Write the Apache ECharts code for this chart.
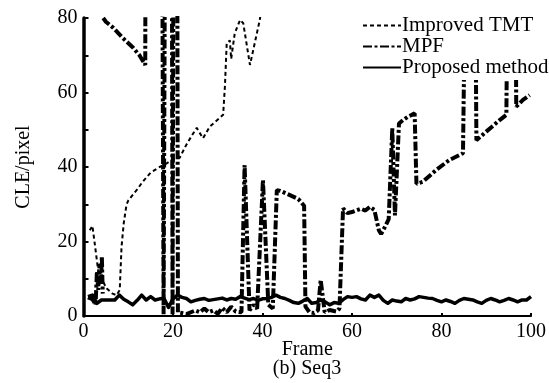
<!DOCTYPE html>
<html>
<head>
<meta charset="utf-8">
<script src="https://cdn.jsdelivr.net/npm/echarts@6/dist/echarts.min.js"></script>
<style>
  html, body {margin: 0; padding: 0; background: #fff;}
  #chart {width: 549px; height: 383px;}
</style>
</head>
<body>
<div id="chart"></div>
<script>
// Improved TMT (thin dashed), goes off the top after frame 40
const tmtFrames = [1.4, 2, 2.6, 3.3, 4, 5.2, 6.5, 7.4, 8.1, 8.5, 9, 9.6, 10, 11, 12, 13.2, 15, 17, 18.6, 20, 21.5, 23, 24.5, 25.3, 26.7, 28.2, 31.2, 31.6, 32, 32.7, 33, 33.8, 35, 35.7, 37.2, 39.4, 40]
const tmtValues = [23, 24.2, 18.6, 12, 10, 7.4, 6, 5.6, 7, 18.6, 25, 29.8, 31, 32.5, 34, 36, 38.5, 40, 41, 42, 42.5, 46, 49, 50.5, 47.7, 50.8, 54, 61.6, 73.2, 74, 69, 75.9, 79.5, 78.6, 67.4, 79.5, 85]

// MPF (thick dash-dot), null = break in the line
const mpfFrames = [1, 2, 2.7, 3, 3.3, 3.6, 3.9, 4.1, 4.3, 4.35,
  4.4, 5, 6.7, 8.8, 11.1, 12.5, 13.8, 14, 17.3, 17.9, 18.5, 19.6, 19.9, 20.3, 20.8, 21.1,
  22, 23, 24, 25, 26, 27, 28, 29, 30, 31, 32, 33, 34, 35.3, 36, 37.1, 38, 38.8, 40.1, 41.3, 42.3,
  43.2, 44, 46, 48, 49.3, 49.6, 50.5, 51.5, 52.4, 53, 53.9, 55, 56.5, 57.2, 58, 59, 60.2, 62, 63,
  64, 65, 66, 66.5, 67.4, 68.2, 69, 69.6, 70.5, 71.4, 72.5, 74, 74.4, 75.8, 78.8, 81.8, 84.8,
  85.4, 87.5, 87.8, 90, 93, 94.5, 94.8, 96.5, 96.7, 98.2, 99.7]
const mpfValues = [5, 4.5, 3, 12, 7, 14, 9, 16, 6, null,
  80, 79, 77.3, 74.6, 72, 70, 67.4, 200, 200, 0.5, 200, 200, 0.5, 200, 200, 1,
  0.8, 0.5, 1, 1.5, 1, 2, 1, 1.5, 0.6, 2.2, 1, 2.5, 1.2, 1, 40.5, 1.5, 3, 2, 36.5, 3, 2,
  33.8, 33.6, 32.5, 31.4, 29.6, 2.5, 1, 0.8, 1.5, 9.7, 1, 1.6, 1.2, 2, 28.9, 27.6, 28, 28.8, 28.3,
  29.3, 28.5, 23, 22, 24, 26, 50.4, 27, 51.7, 52.6, 53.5, 54.4, 35.5, 36, 39.2, 41.9, 43.7,
  100, 100, 47.2, 49.5, 52.6, 54, 100, 100, 56.2, 58, 59.3]

// Proposed method, frames 1..100
const proposedValues = [5.2, 5.6, 3.4, 4.3, 4.3, 4.3, 4.3, 5.6, 4.5, 3.8,
  3.0, 4.2, 5.6, 4.3, 5.2, 4.3, 4.6, 4.7, 2.3, 4.6,
  5.6, 5.0, 4.7, 3.8, 4.2, 4.5, 4.7, 4.2, 4.4, 4.6,
  4.8, 4.3, 4.7, 4.5, 5.2, 4.8, 4.4, 4.7, 4.2, 4.6,
  4.7, 5.0, 5.6, 5.0, 4.7, 4.2, 3.6, 3.4, 4.0, 4.7,
  3.4, 3.6, 4.3, 3.8, 3.0, 3.6, 3.4, 4.4, 5.2, 5.0,
  5.2, 4.6, 4.3, 5.6, 5.0, 5.6, 4.2, 3.4, 4.3, 4.0,
  3.8, 4.7, 4.3, 4.6, 5.2, 5.0, 4.8, 4.7, 4.2, 3.8,
  4.3, 3.9, 3.4, 4.2, 4.7, 4.5, 4.3, 3.8, 3.4, 4.2,
  4.7, 4.3, 3.8, 4.2, 4.7, 4.3, 3.8, 4.3, 4.3, 5.2]

const seriesNames = ['Improved TMT', 'MPF', 'Proposed method']

const font = 'Liberation Serif, Times New Roman, serif'
const pairs = (xs, ys) => xs.map((x, i) => [x, ys[i]])

const chart = echarts.init(document.getElementById('chart'), null, {renderer: 'canvas'})

const option = {
  animation: false,
  backgroundColor: '#fff',
  color: ['#000', '#000', '#000'],
  textStyle: {fontFamily: font, color: '#000'},
  title: {
    text: '(b) Seq3',
    left: 307,
    top: 359,
    textAlign: 'center',
    padding: 0,
    textStyle: {fontFamily: font, fontSize: 20, fontWeight: 'normal', color: '#000'}
  },
  legend: {
    data: seriesNames,
    orient: 'vertical',
    left: 362,
    top: 15,
    padding: [0, 0, 2, 0],
    itemGap: 0,
    itemWidth: 38,
    itemHeight: 16,
    backgroundColor: '#fff',
    itemStyle: {opacity: 0},
    textStyle: {fontFamily: font, fontSize: 21, color: '#000', lineHeight: 18.5, padding: [0, 0, 0, -4]}
  },
  grid: {left: 83.5, right: 17.5, top: 18, bottom: 67},
  xAxis: {
    type: 'value',
    min: 0,
    max: 100,
    interval: 20,
    name: 'Frame',
    nameLocation: 'middle',
    nameGap: 24,
    nameMoveOverlap: false,
    nameTextStyle: {fontFamily: font, fontSize: 20, color: '#000'},
    splitLine: {show: false},
    axisLine: {onZero: false, lineStyle: {color: '#000', width: 2}},
    axisTick: {inside: true, length: 3, lineStyle: {color: '#000', width: 2}},
    axisLabel: {fontFamily: font, fontSize: 20, color: '#000', margin: 6}
  },
  yAxis: {
    type: 'value',
    min: 0,
    max: 80,
    interval: 20,
    name: 'CLE/pixel',
    nameLocation: 'middle',
    nameGap: 50,
    nameTextStyle: {fontFamily: font, fontSize: 20, color: '#000'},
    splitLine: {show: false},
    axisLine: {lineStyle: {color: '#000', width: 3.5}},
    axisTick: {inside: true, length: 5, lineStyle: {color: '#000', width: 2}},
    minorTick: {show: true, splitNumber: 2, length: 5, lineStyle: {color: '#000', width: 2}},
    axisLabel: {fontFamily: font, fontSize: 20, color: '#000', margin: 6}
  },
  series: [
    {
      name: seriesNames[0],
      type: 'line',
      symbol: 'none',
      data: pairs(tmtFrames, tmtValues),
      lineStyle: {color: '#000', width: 2, type: [4, 3]},
      z: 3
    },
    {
      name: seriesNames[1],
      type: 'line',
      symbol: 'none',
      connectNulls: false,
      data: pairs(mpfFrames, mpfValues),
      lineStyle: {color: '#000', width: 4, type: [9, 2.5, 3, 2.5]},
      z: 2
    },
    {
      name: seriesNames[2],
      type: 'line',
      symbol: 'none',
      data: proposedValues.map((v, i) => [i + 1, v]),
      lineStyle: {color: '#000', width: 3.5, join: 'round'},
      z: 3
    }
  ]
}

chart.setOption(option)
</script>
</body>
</html>
